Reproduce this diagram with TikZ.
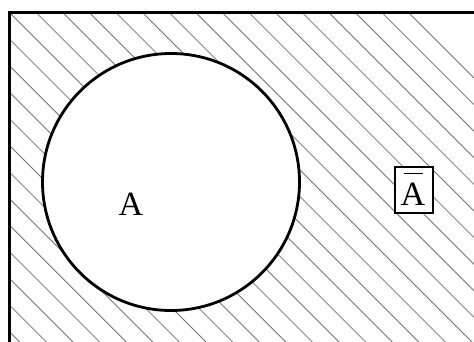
\documentclass[tikz,border=0pt]{standalone}
\usepackage{fontspec}
\setmainfont{Liberation Serif}
\begin{document}
\begin{tikzpicture}[x=1pt,y=-1pt,
  hatch/.style={draw=black!55,line width=0.8pt},
  frame/.style={draw=black,line width=2.6pt},
  setcircle/.style={draw=black,line width=2.8pt},
  lbl/.style={font=\fontsize{34}{38}\selectfont,inner sep=0pt,anchor=base}]
\useasboundingbox (0,0) rectangle (474,341);
\clip (0,0) rectangle (474,341);
\begin{scope}[even odd rule]
  \clip (9.5,12.5) rectangle (490,360) (171,182) circle[radius=128.5];
  \foreach \k in {-15,...,15}{
    \pgfmathsetmacro{\c}{-3+26.6*\k}
    \draw[hatch] (\c-400,-400) -- ++(1200,1200);
  }
\end{scope}
\draw[frame] (9.5,12.5) rectangle (490,360);
\draw[setcircle] (171,182) circle[radius=128.5];
\node[lbl] (a) at (131,215) {A};
\node[draw=black,line width=1.8pt,fill=white,minimum width=38pt,minimum height=45.4pt,inner sep=0pt] (abar) at (414,190) {};
\node[lbl] (atext) at (413,205.7) {A};
\coordinate (b1) at (404,173.5);
\coordinate (b2) at (423,173.5);
\draw[line width=1.8pt] (b1) -- (b2);
\end{tikzpicture}
\end{document}
